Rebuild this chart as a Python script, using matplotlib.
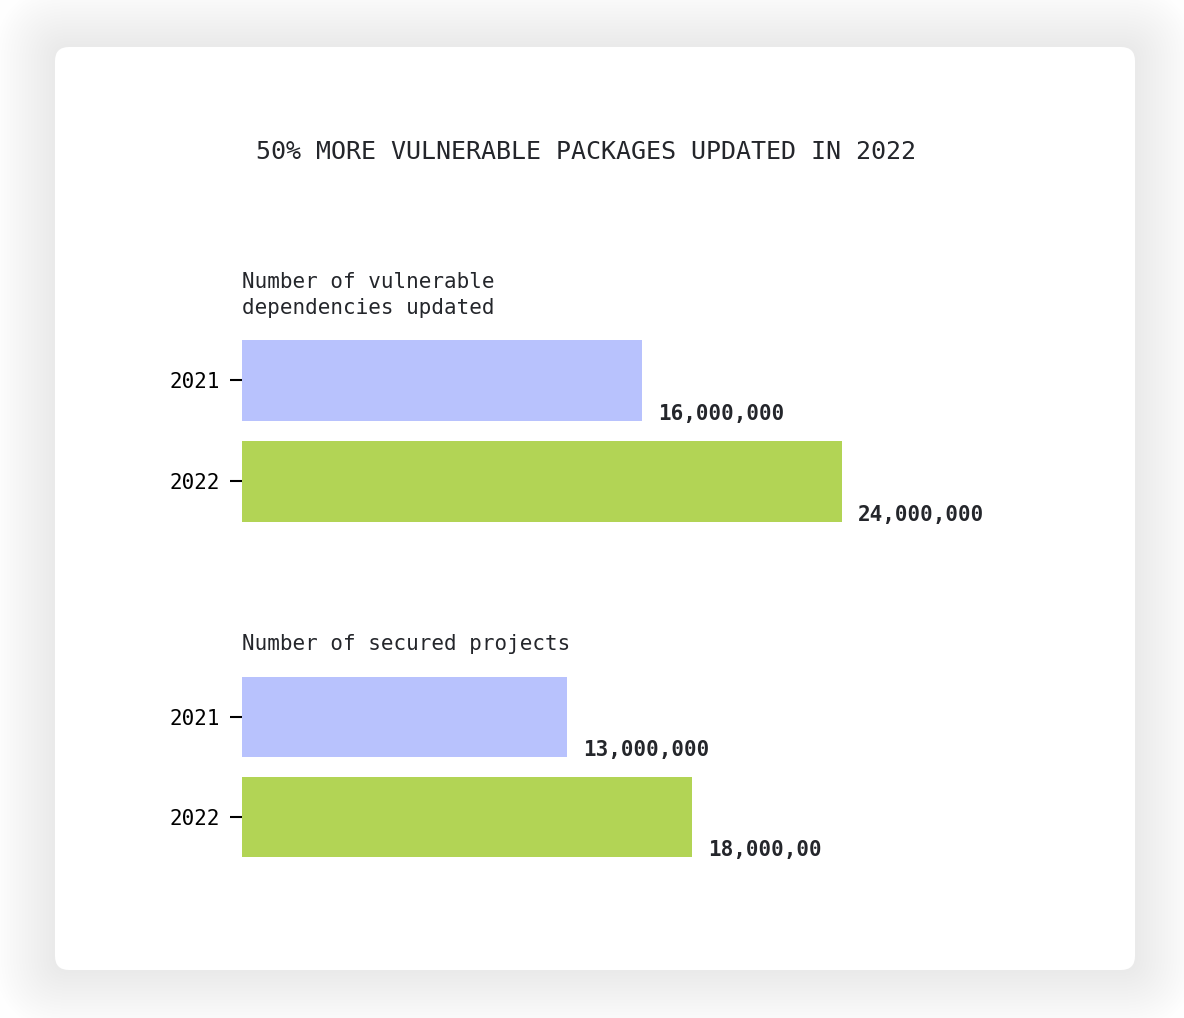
import matplotlib.pyplot as plt
from matplotlib.patches import FancyBboxPatch
from matplotlib.transforms import IdentityTransform

years = ['2021', '2022']
dependencies = [16000000, 24000000]
projects = [13000000, 18000000]
dep_labels = ['16,000,000', '24,000,000']
proj_labels = ['13,000,000', '18,000,00']
colors = ['#b8c2fd', '#b2d455']

title = '50% MORE VULNERABLE PACKAGES UPDATED IN 2022'
sub1 = 'Number of vulnerable\ndependencies updated'
sub2 = 'Number of secured projects'

W, H = 1184, 1018
fig = plt.figure(figsize=(W / 100, H / 100), dpi=100, facecolor='#fefefe')
font = 'DejaVu Sans Mono'
dark = '#24262b'

# card with a soft shadow (pixel coords, y from bottom)
cx0, cy0, cx1, cy1 = 55, H - 970, 1135, H - 47
for g in range(60, 0, -3):
    fig.patches.append(FancyBboxPatch((cx0 - g, cy0 - g), cx1 - cx0 + 2 * g, cy1 - cy0 + 2 * g,
                                      boxstyle='round,pad=0,rounding_size=%d' % (14 + g),
                                      transform=IdentityTransform(), facecolor='black',
                                      edgecolor='none', alpha=0.0025, zorder=-3))
fig.patches.append(FancyBboxPatch((cx0, cy0), cx1 - cx0, cy1 - cy0,
                                  boxstyle='round,pad=0,rounding_size=14',
                                  transform=IdentityTransform(), facecolor='white',
                                  edgecolor='none', zorder=-2))

fig.text(586 / W, 1 - 152 / H, title, ha='center', va='center', fontsize=18,
         family=font, color=dark)


def panel(top_px, step, values, labels, subtitle, sub_y):
    ax = fig.add_axes([242 / W, 1 - (top_px + 2 * step) / H, 600 / W, 2 * step / H])
    ax.set_facecolor('none')
    ax.barh(range(len(values)), values, height=0.8, color=colors)
    ax.set_xlim(0, 24000000)
    ax.set_ylim(1.5, -0.5)
    ax.set_yticks(range(len(years)))
    ax.set_yticklabels(years, fontsize=15, family=font, color='black')
    ax.tick_params(axis='y', length=9, width=1.5, pad=7, colors='black')
    ax.set_xticks([])
    for s in ax.spines.values():
        s.set_visible(False)
    for i, (v, lab) in enumerate(zip(values, labels)):
        ax.annotate(lab, (v, i + 0.33), xytext=(16, 0), textcoords='offset pixels',
                    ha='left', va='center', fontsize=15, fontweight='bold',
                    family=font, color=dark, annotation_clip=False)
    fig.text(242 / W, 1 - sub_y / H, subtitle, ha='left', va='center', fontsize=15,
             family=font, color=dark, linespacing=1.35)
    return ax


panel(330, 101, dependencies, dep_labels, sub1, 295)
panel(667, 100, projects, proj_labels, sub2, 644)

fig.savefig('out.png', dpi=100, facecolor=fig.get_facecolor())
